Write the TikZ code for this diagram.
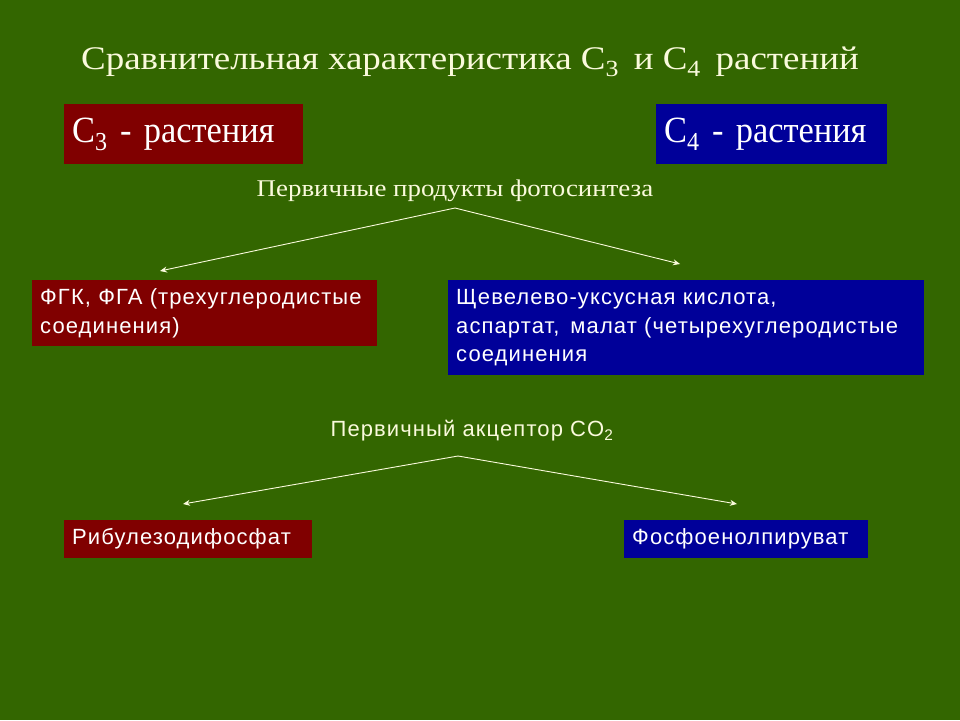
\documentclass[tikz,border=0pt]{standalone}
\usepackage{fontspec}
\setmainfont{Liberation Serif}
\setsansfont{Liberation Sans}[LetterSpace=5.0]
\newfontfamily\widefont{Liberation Serif}[FakeStretch=1.12]
\newfontfamily\narrowfont{Liberation Serif}[FakeStretch=0.93]
\usetikzlibrary{arrows.meta}
\definecolor{slidegreen}{RGB}{51,102,0}
\definecolor{cthree}{RGB}{128,0,0}
\definecolor{cfour}{RGB}{0,0,153}
\definecolor{cream}{RGB}{250,250,220}
\tikzset{
  box/.style={anchor=north west,inner xsep=8pt,inner ysep=0pt,align=left,text=white},
  redbox/.style={box,fill=cthree},
  bluebox/.style={box,fill=cfour},
  head/.style={font=\widefont\fontsize{33}{36}\selectfont,text=cream},
  boxhead/.style={font=\narrowfont\fontsize{37}{40}\selectfont},
  label/.style={font=\widefont\fontsize{24}{26}\selectfont,text=cream},
  small/.style={font=\sffamily\fontsize{22}{28.5}\selectfont},
  branch/.style={cream,line width=0.9pt,-{Stealth[length=7pt,width=6pt]}}
}

\begin{document}
\begin{tikzpicture}[x=1pt,y=-1pt]
\fill[slidegreen] (0,0) rectangle (960,720);
\useasboundingbox (0,0) rectangle (960,720);
\node[head] (title) at (470,62) {Сравнительная характеристика C\textsubscript{3}\, и C\textsubscript{4}\, растений};
\node[redbox,boxhead,text width=223pt,minimum height=60pt] (cthreehead) at (64,104) {C\textsubscript{3} - растения};
\node[bluebox,boxhead,text width=215pt,minimum height=60pt] (cfourhead) at (656,104) {C\textsubscript{4} - растения};
% первичные продукты
\node[label] (products) at (455,191) {Первичные продукты фотосинтеза};
\coordinate (ptop) at (455,208);
\coordinate (pleft) at (160,271);
\coordinate (pright) at (680,264);
\draw[branch] (ptop) -- (pleft);
\draw[branch] (ptop) -- (pright);
\node[redbox,small,text width=329pt,minimum height=66pt] (pga) at (32,280) {ФГК, ФГА (трехуглеродистые\\соединения)};
\node[bluebox,small,text width=460pt,minimum height=95pt] (oxaloacetate) at (448,280) {Щевелево-уксусная кислота,\\аспартат,\, малат (четырехуглеродистые\\соединения};
% первичный акцептор
\node[label,font=\sffamily\fontsize{22}{24}\selectfont] (acceptor) at (472,431) {Первичный акцептор CO\textsubscript{2}};
\coordinate (atop) at (458,456);
\coordinate (aleft) at (183,504);
\coordinate (aright) at (737,504);
\draw[branch] (atop) -- (aleft);
\draw[branch] (atop) -- (aright);
\node[redbox,small,text width=232pt,minimum height=38pt] (rubp) at (64,520) {Рибулезодифосфат};
\node[bluebox,small,text width=228pt,minimum height=38pt] (pep) at (624,520) {Фосфоенолпируват};
\end{tikzpicture}
\end{document}
